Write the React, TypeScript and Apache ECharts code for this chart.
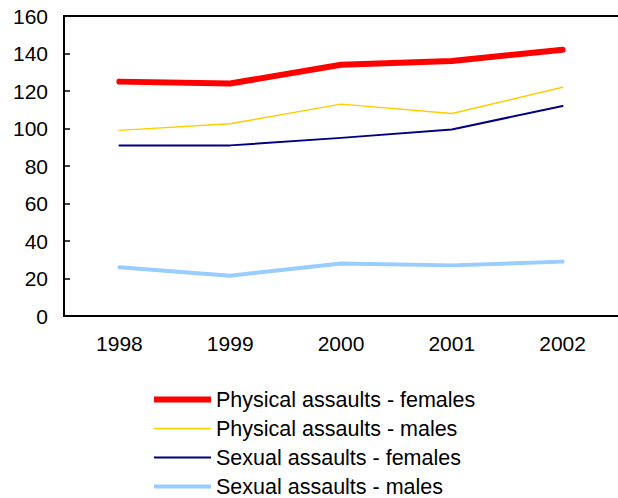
import React, { useEffect, useRef } from "react";
import * as echarts from "echarts";

const years = ["1998", "1999", "2000", "2001", "2002"];
const physicalFemales = [125, 124, 134, 136, 142];
const physicalMales = [99, 102.5, 113, 108, 122];
const sexualFemales = [91, 91, 95, 99.5, 112];
const sexualMales = [26, 21.5, 28, 27, 29];

const names = [
  "Physical assaults - females",
  "Physical assaults - males",
  "Sexual assaults - females",
  "Sexual assaults - males",
];
const colors = ["#ff0000", "#ffcc00", "#000080", "#99ccff"];
const widths = [6, 1.5, 2, 4];

export default function App() {
  const ref = useRef<HTMLDivElement>(null);
  useEffect(() => {
    const chart = echarts.init(ref.current!, null, { renderer: "svg" });
    const font = "'Liberation Sans', Arial, sans-serif";
    const allData = [physicalFemales, physicalMales, sexualFemales, sexualMales];
    chart.setOption({
      animation: false,
      backgroundColor: "#ffffff",
      grid: {
        left: 64,
        top: 16,
        width: 555,
        height: 300,
        show: false,
        containLabel: false,
      },
      xAxis: [
        {
          type: "category",
          data: years,
          boundaryGap: true,
          axisLine: { lineStyle: { color: "#000", width: 2 } },
          axisTick: { inside: true, length: 6, lineStyle: { color: "#000", width: 1.5 } },
          axisLabel: { color: "#000", fontSize: 21, fontFamily: font, margin: 17 },
          splitLine: { show: false },
        },
        {
          type: "category",
          position: "top",
          data: years,
          axisLine: { lineStyle: { color: "#000", width: 2 } },
          axisTick: { show: false },
          axisLabel: { show: false },
          splitLine: { show: false },
        },
      ],
      yAxis: {
        type: "value",
        min: 0,
        max: 160,
        interval: 20,
        axisLine: { show: true, lineStyle: { color: "#000", width: 2 } },
        axisTick: { show: true, inside: true, length: 6, lineStyle: { color: "#000", width: 1.5 } },
        axisLabel: { color: "#000", fontSize: 21, fontFamily: font, margin: 16 },
        splitLine: { show: false },
      },
      legend: {
        orient: "vertical",
        left: 149,
        top: 380,
        height: 200,
        itemWidth: 57,
        itemHeight: 14,
        itemGap: 0,
        textStyle: { color: "#000", fontSize: 21.5, fontFamily: font, lineHeight: 29 },
        data: names.map((n, i) => ({
          name: n,
          icon: `path://M0,0L57,0L57,${widths[i]}L0,${widths[i]}Z`,
          itemStyle: { color: colors[i] },
        })),
      },
      series: names.map((n, i) => ({
        name: n,
        type: "line",
        data: allData[i],
        symbol: "none",
        lineStyle: { color: colors[i], width: widths[i], cap: "round", join: "round" },
        itemStyle: { color: colors[i] },
      })),
    });
    return () => chart.dispose();
  }, []);
  return (
    <div
      ref={ref}
      style={{ position: "absolute", left: 0, top: 0, width: 618, height: 498 }}
    />
  );
}
